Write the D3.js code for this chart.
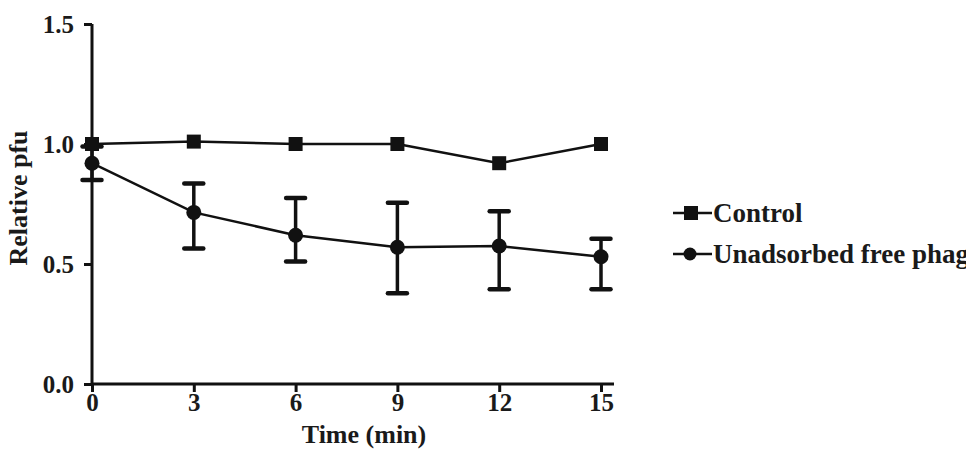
<!DOCTYPE html>
<html>
<head>
<meta charset="utf-8">
<script src="https://d3js.org/d3.v7.min.js"></script>
<style>
  body { margin: 0; background: #fff; }
  svg text { font-family: "Liberation Serif", "Times New Roman", serif; font-weight: bold; fill: #1a1a1a; }
</style>
</head>
<body>
<svg width="966" height="459"></svg>
<script>
var times = [0, 3, 6, 9, 12, 15];
var control = [1.0, 1.01, 1.0, 1.0, 0.92, 1.0];
var freePhage = [0.92, 0.715, 0.62, 0.57, 0.575, 0.53];
var freeUpper = [0.99, 0.835, 0.775, 0.755, 0.72, 0.605];
var freeLower = [0.85, 0.565, 0.51, 0.378, 0.395, 0.395];
var xTicks = [0, 3, 6, 9, 12, 15];
var yTicks = [0.0, 0.5, 1.0, 1.5];
var seriesNames = ["Control", "Unadsorbed free phage"];

var svg = d3.select("svg");
var x = d3.scaleLinear().domain([0, 15]).range([92, 601]);
var y = d3.scaleLinear().domain([0, 1.5]).range([384, 24]);

// axes
var xAxis = svg.append("g")
    .attr("transform", "translate(0,384)")
    .call(d3.axisBottom(x).tickValues(xTicks).tickFormat(d3.format("d")).tickSize(8).tickSizeOuter(0));
xAxis.select(".domain").attr("d", "M" + x(0) + ",0H614");
var yAxis = svg.append("g")
    .attr("transform", "translate(92,0)")
    .call(d3.axisLeft(y).tickValues(yTicks).tickFormat(d3.format(".1f")).tickSize(8).tickSizeOuter(0));
yAxis.select(".domain").attr("d", "M0," + y(1.5) + "V" + y(0));

svg.selectAll(".domain, .tick line").attr("stroke", "#111").attr("stroke-width", 3);
xAxis.selectAll("text").attr("font-size", 25).attr("y", 8).attr("dy", "0.75em");
yAxis.selectAll("text").attr("font-size", 25).attr("x", -18).attr("dy", "0.33em");
svg.selectAll(".tick text").attr("fill", "#1a1a1a");

svg.append("text").attr("x", 364).attr("y", 443).attr("text-anchor", "middle")
    .attr("font-size", 26).text("Time (min)");
svg.append("text").attr("transform", "translate(27,198) rotate(-90)").attr("text-anchor", "middle")
    .attr("font-size", 26).text("Relative pfu");

var line = d3.line().x(function(d) { return x(d[0]); }).y(function(d) { return y(d[1]); });

// error bars
var eb = svg.append("g").attr("stroke", "#111").attr("stroke-width", 3.5);
times.forEach(function(t, i) {
  eb.append("line").attr("x1", x(t)).attr("x2", x(t)).attr("y1", y(freeUpper[i])).attr("y2", y(freeLower[i]));
  [freeUpper[i], freeLower[i]].forEach(function(v) {
    eb.append("line").attr("x1", x(t) - 9.5).attr("x2", x(t) + 9.5).attr("y1", y(v)).attr("y2", y(v))
      .attr("stroke-width", 4.5).attr("stroke-linecap", "round");
  });
});

svg.append("path").datum(times.map(function(t, i) { return [t, control[i]]; }))
    .attr("d", line).attr("fill", "none").attr("stroke", "#111").attr("stroke-width", 2.5);
svg.append("path").datum(times.map(function(t, i) { return [t, freePhage[i]]; }))
    .attr("d", line).attr("fill", "none").attr("stroke", "#111").attr("stroke-width", 2.5);

svg.selectAll(".sq").data(times).enter().append("rect")
    .attr("x", function(d) { return x(d) - 7; })
    .attr("y", function(d, i) { return y(control[i]) - 7; })
    .attr("width", 14).attr("height", 14).attr("fill", "#111");
svg.selectAll(".ci").data(times).enter().append("circle")
    .attr("cx", function(d) { return x(d); })
    .attr("cy", function(d, i) { return y(freePhage[i]); })
    .attr("r", 7.5).attr("fill", "#111");

// legend
var leg = svg.append("g");
[213, 254].forEach(function(ly, i) {
  leg.append("line").attr("x1", 673).attr("x2", 712).attr("y1", ly).attr("y2", ly)
    .attr("stroke", "#111").attr("stroke-width", 2.5);
  if (i === 0) {
    leg.append("rect").attr("x", 684).attr("y", ly - 7).attr("width", 14).attr("height", 14).attr("fill", "#111");
  } else {
    leg.append("circle").attr("cx", 690).attr("cy", ly).attr("r", 6.5).attr("fill", "#111");
  }
  leg.append("text").attr("x", 713).attr("y", ly).attr("dy", "0.35em")
    .attr("font-size", 27).text(seriesNames[i]);
});
</script>
</body>
</html>
